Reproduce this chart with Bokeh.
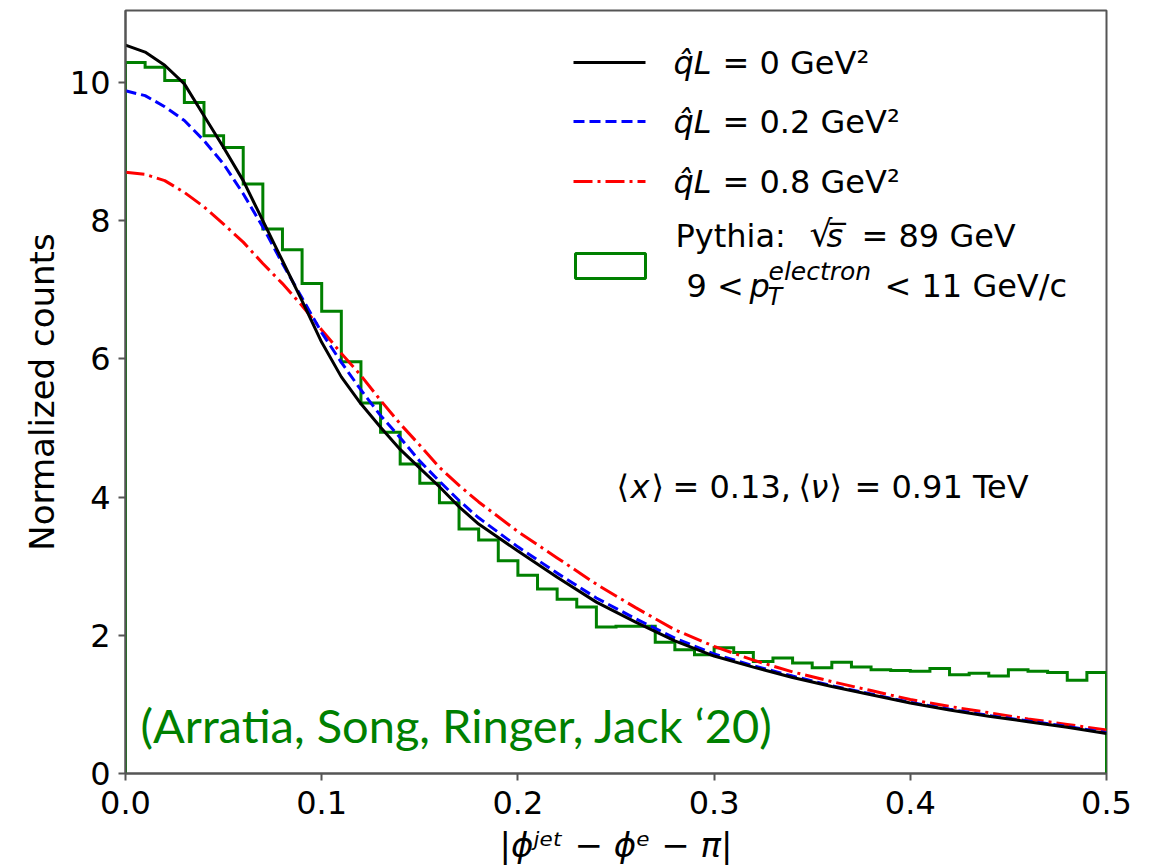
import numpy as np
from bokeh.plotting import figure
from bokeh.models import Range1d, FixedTicker, PrintfTickFormatter, Label, Arrow, BoxAnnotation
from bokeh.embed import file_html
from bokeh.resources import INLINE

# ---------------- data ----------------
x_ticks = [0.0, 0.1, 0.2, 0.3, 0.4, 0.5]
y_ticks = [0, 2, 4, 6, 8, 10]

bin_width = 0.01
pythia_counts = [10.29, 10.22, 10.03, 9.71, 9.23, 9.06, 8.53, 7.88, 7.58, 7.09,
                 6.69, 5.96, 5.36, 4.94, 4.48, 4.20, 3.92, 3.54, 3.38, 3.08,
                 2.87, 2.67, 2.52, 2.41, 2.12, 2.13, 2.13, 1.90, 1.79, 1.72,
                 1.82, 1.75, 1.62, 1.67, 1.60, 1.53, 1.61, 1.54, 1.50, 1.49,
                 1.48, 1.52, 1.43, 1.45, 1.41, 1.50, 1.48, 1.46, 1.35, 1.46]

curve_x = [0.00, 0.01, 0.02, 0.03, 0.04, 0.05, 0.06, 0.07, 0.08, 0.09, 0.10, 0.11,
           0.12, 0.13, 0.14, 0.15, 0.16, 0.17, 0.18, 0.20, 0.22, 0.24, 0.26, 0.28,
           0.30, 0.32, 0.34, 0.36, 0.38, 0.40, 0.42, 0.44, 0.46, 0.48, 0.50]
qL_0 = [10.54, 10.44, 10.25, 9.98, 9.52, 9.06, 8.58, 8.00, 7.42, 6.84, 6.24, 5.74,
        5.35, 5.01, 4.69, 4.42, 4.15, 3.86, 3.61, 3.22, 2.84, 2.48, 2.19, 1.92,
        1.70, 1.54, 1.39, 1.26, 1.14, 1.02, 0.92, 0.83, 0.75, 0.67, 0.58]
qL_02 = [9.88, 9.81, 9.65, 9.45, 9.16, 8.82, 8.39, 7.91, 7.38, 6.88, 6.38, 5.95,
         5.55, 5.18, 4.86, 4.52, 4.23, 3.95, 3.70, 3.28, 2.90, 2.54, 2.24, 1.96,
         1.73, 1.56, 1.41, 1.27, 1.15, 1.03, 0.93, 0.84, 0.76, 0.68, 0.59]
qL_08 = [8.70, 8.67, 8.58, 8.41, 8.20, 7.95, 7.69, 7.38, 7.09, 6.77, 6.42, 6.08,
         5.76, 5.40, 5.06, 4.75, 4.43, 4.17, 3.93, 3.50, 3.12, 2.74, 2.40, 2.08,
         1.84, 1.64, 1.47, 1.33, 1.20, 1.07, 0.97, 0.88, 0.79, 0.71, 0.63]

# ---------------- layout helpers (page pixel -> data) ----------------
PX0, PX1, PY0, PYS = 125.0, 1106.0, 773.0, 69.1
def dx(px):
    return (px - PX0) / (PX1 - PX0) * 0.5
def dy(py):
    return (PY0 - py) / PYS

FONT = "DejaVu Sans"
GREEN = "#008000"
FRAME = "#555555"

p = figure(width=1157, height=868, output_backend="svg", toolbar_location=None,
           x_range=Range1d(0, 0.5), y_range=Range1d(0, dy(10)),
           min_border_left=125, min_border_right=51, min_border_top=10, min_border_bottom=95)
p.background_fill_color = "white"
p.border_fill_color = "white"
p.outline_line_color = FRAME
p.outline_line_width = 2
p.grid.visible = False

for ax in (p.xaxis[0], p.yaxis[0]):
    ax.axis_line_color = FRAME
    ax.axis_line_width = 2
    ax.major_tick_line_color = FRAME
    ax.major_tick_line_width = 2
    ax.major_tick_in = 0
    ax.major_tick_out = 7
    ax.minor_tick_line_color = None
    ax.major_label_text_font = FONT
    ax.major_label_text_font_size = "32px"
    ax.major_label_text_color = "black"
    ax.axis_label_text_font = FONT
    ax.axis_label_text_font_size = "34px"
    ax.axis_label_text_color = "black"

p.xaxis.ticker = FixedTicker(ticks=x_ticks)
p.xaxis.formatter = PrintfTickFormatter(format="%.1f")
p.yaxis.ticker = FixedTicker(ticks=y_ticks)
p.xaxis.major_label_standoff = 10
p.yaxis.major_label_standoff = 8
p.yaxis.axis_label = "Normalized counts"
p.yaxis.axis_label_text_font_style = "normal"
p.yaxis.axis_label_standoff = 5
p.xaxis.axis_label = "|ϕʲᵉᵗ − ϕᵉ − π|"
p.xaxis.axis_label_text_font_style = "italic"
p.xaxis.axis_label_standoff = 8

# ---------------- histogram (step outline) ----------------
edges = np.arange(len(pythia_counts) + 1) * bin_width
hx = [edges[0]]
hy = [0.0]
for i, v in enumerate(pythia_counts):
    hx += [edges[i], edges[i + 1]]
    hy += [v, v]
hx.append(edges[-1])
hy.append(0.0)
p.line(hx, hy, line_color=GREEN, line_width=3, line_join="miter")

# ---------------- curves ----------------
p.line(curve_x, qL_08, line_color="#ff0000", line_width=3, line_dash="19 5 3 5")
p.line(curve_x, qL_02, line_color="#0000ff", line_width=3, line_dash="11 5")
p.line(curve_x, qL_0, line_color="black", line_width=3)

# ---------------- legend (manual) ----------------
def sample(py, color, dash):
    p.add_layout(Arrow(end=None, x_start=dx(573), y_start=dy(py), x_end=dx(645), y_end=dy(py),
                       line_color=color, line_width=3, line_dash=dash))

sample(62, "black", "solid")
sample(121, "#0000ff", "11 5")
sample(181, "#ff0000", "19 5 3 5")
p.add_layout(BoxAnnotation(left=dx(575), right=dx(645), top=dy(253), bottom=dy(278),
                           fill_alpha=0, line_color=GREEN, line_alpha=1.0, line_width=3,
                           level="overlay"))

def txt(px, py, s, size="32px", style="normal", color="black", font=FONT):
    p.add_layout(Label(x=dx(px), y=dy(py), text=s, text_font=font, text_font_size=size,
                       text_font_style=style, text_color=color,
                       text_align="left", text_baseline="middle"))

for py, val in ((62, "0"), (121, "0.2"), (181, "0.8")):
    txt(673, py, "q̂L", style="italic")
    txt(722, py, "= " + val + " GeV²")

txt(675, 235, "Pythia:")
txt(809, 233, "√", size="36px")
txt(826, 235, "s̅", style="italic")
txt(861, 235, "= 89 GeV")

txt(686, 285, "9 <")
txt(749, 285, "p", style="italic")
txt(768, 271, "electron", size="25px", style="italic")
txt(767, 296, "T", size="24px", style="italic")
txt(884, 285, "< 11 GeV/c")

# ---------------- annotation ----------------
ay = 486
txt(616, ay, "⟨")
txt(630, ay, "x", style="italic")
txt(651, ay, "⟩")
txt(672, ay, "= 0.13,")
txt(798, ay, "⟨")
txt(810, ay, "ν", style="italic")
txt(829, ay, "⟩")
txt(854, ay, "= 0.91 TeV")

txt(140, 724, "(Arratia, Song, Ringer, Jack ‘20)", size="47px", color=GREEN, font="Lato")

open("out.html", "w").write(file_html(p, INLINE))
